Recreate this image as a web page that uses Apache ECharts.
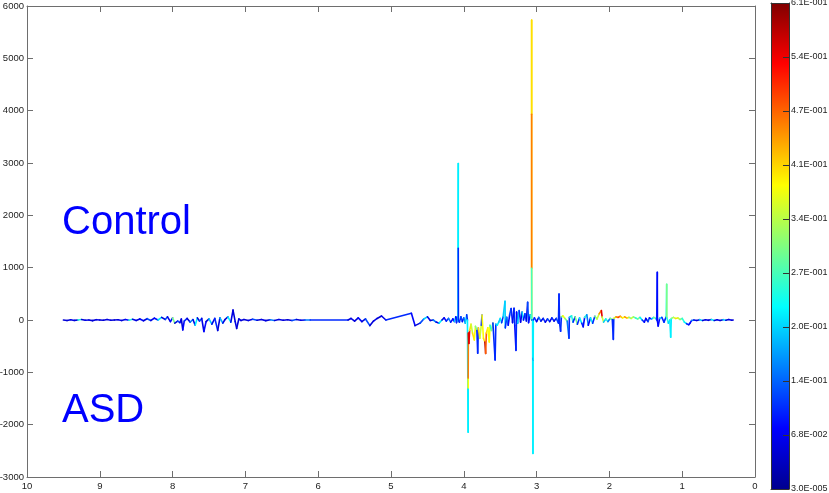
<!DOCTYPE html>
<html>
<head>
<meta charset="utf-8">
<script src="https://cdn.jsdelivr.net/npm/echarts@6/dist/echarts.min.js"></script>
<style>
html,body{margin:0;padding:0;background:#fff;}
#chart{width:829px;height:493px;}
</style>
</head>
<body>
<div id="chart"></div>
<script>
// chemical shift (ppm), intensity, correlation (colour) for each trace point
var ppm = [
 9.50,9.45,9.40,9.35,9.30,9.25,9.20,9.15,9.10,9.05,9.00,8.95,8.90,8.85,8.80,8.75,8.70,8.65,8.60,8.55,8.50,
 8.45,8.40,8.35,8.30,8.25,8.20,8.15,8.10,8.07,8.03,8.00,7.97,7.93,7.90,7.88,7.86,7.84,7.80,7.76,7.72,7.69,7.66,
 7.63,7.60,7.57,7.54,7.50,7.46,7.42,7.38,7.35,7.31,7.28,7.24,7.20,7.17,7.14,7.12,7.09,7.06,
 7.02,6.96,6.90,6.84,6.78,6.72,6.66,6.60,6.54,6.48,6.42,6.36,6.30,6.24,6.18,6.11,
 5.59,5.55,5.50,5.45,5.40,5.35,5.29,5.24,5.19,5.13,5.07,4.72,4.67,4.60,4.55,4.50,4.46,4.42,4.38,4.34,4.30,
 4.27,4.24,4.21,4.18,4.15,4.13,4.11,4.10,4.09,4.08,4.076,4.076,4.074,
 4.06,4.04,4.02,4.00,3.98,3.96,3.95,3.940,3.940,3.940,3.937,3.93,3.92,3.90,3.88,3.856,3.84,3.82,3.809,3.80,3.78,3.76,3.75,
 3.73,3.71,3.70,3.69,3.67,3.65,3.64,3.62,3.60,3.57,3.56,3.54,3.52,3.50,3.48,3.46,3.434,3.43,3.41,3.39,3.37,3.35,3.33,3.31,3.30,
 3.283,3.275,3.26,3.24,3.22,3.20,3.18,3.16,3.14,3.123,3.11,3.09,3.068,3.068,3.068,3.068,3.066,
 3.055,3.050,3.049,3.047,3.045,
 3.03,3.00,2.97,2.94,2.91,2.88,2.85,2.82,2.79,2.76,2.73,2.70,2.692,2.685,2.67,2.66,2.64,2.61,2.58,2.555,2.55,2.52,2.50,
 2.47,2.44,2.41,2.38,2.36,2.34,2.31,2.29,2.26,2.23,2.20,2.17,2.14,2.11,2.10,2.08,2.05,2.02,1.99,1.96,1.946,1.94,1.91,
 1.88,1.85,1.82,1.79,1.76,1.73,1.70,1.67,1.64,1.61,1.58,1.55,1.52,1.50,1.47,1.45,1.42,1.39,1.36,1.35,1.342,1.340,1.33,
 1.31,1.28,1.25,1.22,1.213,1.21,1.19,1.17,1.158,1.15,1.12,1.09,1.06,1.03,1.00,0.97,0.94,0.91,0.893,0.87,0.84,
 0.80,0.76,0.72,0.68,0.64,0.60,0.56,0.52,0.48,0.44,0.40,0.36,0.32,0.30
];
var intensity = [
 0,-10,5,-8,0,10,-5,0,-12,6,0,-6,8,-4,0,5,-10,10,-5,15,-10,
 20,-15,25,-10,35,0,50,10,60,-30,40,-60,-20,-50,20,-190,-20,30,-40,10,-100,40,
 -20,30,-220,-30,20,-80,30,-200,40,-60,10,60,-40,190,-30,-160,20,-10,
 10,-10,15,-5,8,-12,5,-8,10,-5,6,-10,8,-4,0,0,
 0,30,-20,40,-30,20,-107,-20,30,76,0,128,-107,-60,20,60,-10,0,-40,-60,0,
 40,-20,30,-40,20,-30,60,-50,50,-20,2990,1370,0,
 -40,60,-30,40,-60,100,0,-2146,-1300,-1110,-250,-450,-200,-80,-250,-380,-120,-200,-636,-150,-350,-100,95,
 -350,-420,-640,-250,-150,-420,-100,-200,-60,-764,-80,-100,-40,30,-50,60,357,-150,50,-100,100,220,-50,223,-100,
 -580,150,-60,180,-40,150,0,120,-20,340,-50,100,0,5733,3931,988,0,
 0,-2550,-730,-760,0,
 40,-30,50,-20,30,-40,20,-30,40,-20,30,-60,497,-50,-216,60,80,30,-20,-350,50,80,-40,
 60,-80,40,-60,-130,50,100,-100,40,-60,70,20,120,180,60,-40,20,-30,30,10,-370,30,60,
 50,70,40,60,40,50,30,60,40,20,50,0,-40,30,-30,40,20,50,30,0,912,-20,-115,
 30,50,-40,60,682,40,-60,0,-330,30,50,30,40,10,30,-40,-70,-90,-60,-10,0,
 -8,6,-10,5,-6,8,-10,4,-8,6,-5,8,-4,0
];
var corr = [
 0.05,0.05,0.06,0.05,0.25,0.05,0.06,0.05,0.05,0.06,0.05,0.05,0.06,0.05,0.05,0.06,0.05,0.08,0.25,0.06,0.05,
 0.08,0.05,0.12,0.06,0.08,0.22,0.05,0.12,0.06,0.08,0.3,0.05,0.12,0.06,0.05,0.08,0.1,0.05,0.15,0.06,0.22,0.05,
 0.12,0.06,0.08,0.05,0.2,0.06,0.1,0.05,0.18,0.06,0.05,0.22,0.06,0.05,0.06,0.05,0.06,0.05,
 0.05,0.06,0.12,0.05,0.06,0.05,0.15,0.05,0.06,0.05,0.05,0.12,0.05,0.06,0.15,0.1,
 0.05,0.06,0.05,0.08,0.05,0.12,0.05,0.06,0.05,0.06,0.1,0.08,0.05,0.12,0.2,0.06,0.05,0.15,0.06,0.22,0.05,
 0.08,0.1,0.15,0.08,0.08,0.2,0.08,0.1,0.08,0.22,0.22,0.1,0.1,
 0.1,0.12,0.08,0.15,0.2,0.1,0.22,0.22,0.38,0.46,0.55,0.55,0.4,0.35,0.4,0.38,0.3,0.1,0.1,0.4,0.35,0.1,0.38,
 0.4,0.58,0.48,0.4,0.38,0.38,0.25,0.3,0.1,0.1,0.2,0.22,0.2,0.22,0.1,0.2,0.2,0.1,0.15,0.08,0.12,0.1,0.06,0.1,0.08,
 0.1,0.08,0.2,0.1,0.06,0.2,0.08,0.12,0.06,0.12,0.08,0.22,0.40,0.40,0.46,0.27,0.1,
 0.22,0.22,0.1,0.22,0.1,
 0.1,0.06,0.15,0.06,0.1,0.06,0.12,0.06,0.1,0.06,0.12,0.1,0.1,0.1,0.1,0.3,0.38,0.3,0.15,0.1,0.2,0.25,0.1,
 0.3,0.1,0.22,0.1,0.08,0.25,0.15,0.08,0.22,0.1,0.3,0.35,0.45,0.55,0.35,0.2,0.25,0.15,0.3,0.1,0.1,0.35,0.45,
 0.5,0.42,0.38,0.45,0.4,0.3,0.35,0.3,0.25,0.3,0.22,0.1,0.08,0.06,0.12,0.08,0.2,0.3,0.2,0.1,0.08,0.08,0.08,
 0.2,0.1,0.1,0.25,0.3,0.25,0.2,0.22,0.22,0.3,0.35,0.4,0.35,0.3,0.25,0.22,0.1,0.08,0.08,0.15,0.06,
 0.05,0.2,0.05,0.06,0.05,0.22,0.05,0.06,0.05,0.2,0.05,0.06,0.05,0.05
];

var xTicks = ['10','9','8','7','6','5','4','3','2','1','0'];
var cbLabels = ['3.0E-005','6.8E-002','1.4E-001','2.0E-001','2.7E-001','3.4E-001','4.1E-001','4.7E-001','5.4E-001','6.1E-001'];
var corrMin = 0.00003, corrMax = 0.61;
var jet = ['#00008f','#0000ff','#0080ff','#00ffff','#80ff80','#ffff00','#ff8000','#ff0000','#800000'];

var segs = [];
for (var i = 0; i < ppm.length - 1; i++) {
  segs.push([ppm[i], intensity[i], ppm[i+1], intensity[i+1], corr[i]]);
}
var jetStops = jet.map(function(c, k){ return {offset: k / (jet.length - 1), color: c}; });

var FONT = '"Liberation Sans", Arial, sans-serif';
var axisCol = '#6e6e6e';
var cbCol = '#333';
var chart = echarts.init(document.getElementById('chart'), null, {renderer:'canvas'});
chart.setOption({
  animation: false,
  backgroundColor: '#fff',
  grid: [
    {left: 27, right: 74, top: 6, bottom: 16, outerBoundsMode:'none', containLabel:false},
    {left: 771, width: 18, top: 3, height: 486, outerBoundsMode:'none', containLabel:false}
  ],
  xAxis: [
    {gridIndex:0, type:'value', min:0, max:10, interval:1, inverse:true, position:'bottom',
     axisLine:{onZero:false, lineStyle:{color:axisCol, width:1}},
     axisTick:{inside:true, length:6, lineStyle:{color:axisCol}},
     axisLabel:{color:'#222', fontFamily:FONT, fontSize:9.5, margin:4,
       formatter:function(v){ return xTicks[10 - Math.round(v)]; }},
     splitLine:{show:false}},
    {gridIndex:0, type:'value', min:0, max:10, interval:1, inverse:true, position:'top',
     axisLine:{onZero:false, lineStyle:{color:axisCol, width:1}},
     axisTick:{inside:true, length:6, lineStyle:{color:axisCol}},
     axisLabel:{show:false}, splitLine:{show:false}},
    {gridIndex:1, type:'value', min:0, max:1, position:'bottom', z:10,
     axisLine:{onZero:false, lineStyle:{color:cbCol, width:1}},
     axisTick:{show:false}, axisLabel:{show:false}, splitLine:{show:false}},
    {gridIndex:1, type:'value', min:0, max:1, position:'top', z:10,
     axisLine:{onZero:false, lineStyle:{color:cbCol, width:1}},
     axisTick:{show:false}, axisLabel:{show:false}, splitLine:{show:false}}
  ],
  yAxis: [
    {gridIndex:0, type:'value', min:-3000, max:6000, interval:1000, position:'left',
     axisLine:{show:true, onZero:false, lineStyle:{color:axisCol, width:1}},
     axisTick:{show:true, inside:true, length:6, lineStyle:{color:axisCol}},
     axisLabel:{color:'#222', fontFamily:FONT, fontSize:9.5, margin:3,
       formatter:function(v){ return String(v); }},
     splitLine:{show:false}},
    {gridIndex:0, type:'value', min:-3000, max:6000, interval:1000, position:'right',
     axisLine:{show:true, onZero:false, lineStyle:{color:axisCol, width:1}},
     axisTick:{show:true, inside:true, length:6, lineStyle:{color:axisCol}},
     axisLabel:{show:false}, splitLine:{show:false}},
    {gridIndex:1, type:'value', min:0, max:9, interval:1, position:'right', z:10,
     axisLine:{show:true, onZero:false, lineStyle:{color:cbCol, width:1}},
     axisTick:{show:true, inside:true, length:6, lineStyle:{color:cbCol}},
     axisLabel:{color:'#222', fontFamily:FONT, fontSize:9, margin:2,
       formatter:function(v){ return cbLabels[Math.round(v)]; }},
     splitLine:{show:false}},
    {gridIndex:1, type:'value', min:0, max:9, interval:1, position:'left', z:10,
     axisLine:{show:true, onZero:false, lineStyle:{color:cbCol, width:1}},
     axisTick:{show:false}, axisLabel:{show:false}, splitLine:{show:false}}
  ],
  visualMap: {
    type:'continuous', min:corrMin, max:corrMax, dimension:4, seriesIndex:0,
    show:false, inRange:{color:jet}
  },
  series: [{
    type:'custom', xAxisIndex:0, yAxisIndex:0,
    encode:{x:[0,2], y:[1,3]},
    data: segs,
    renderItem: function(params, api){
      var a = api.coord([api.value(0), api.value(1)]);
      var b = api.coord([api.value(2), api.value(3)]);
      return {type:'line', shape:{x1:a[0], y1:a[1], x2:b[0], y2:b[1]},
              style:{stroke: api.visual('color'), lineWidth:1.6, lineCap:'round'}};
    }
  }, {
    type:'custom', xAxisIndex:2, yAxisIndex:2, z:1,
    encode:{x:[0,2], y:[1,3]},
    data: [[0, 0, 1, 9]],
    renderItem: function(params, api){
      var a = api.coord([api.value(0), api.value(1)]);
      var b = api.coord([api.value(2), api.value(3)]);
      return {type:'rect',
        shape:{x:a[0], y:b[1], width:b[0]-a[0], height:a[1]-b[1]},
        style:{fill: new echarts.graphic.LinearGradient(0, 1, 0, 0, jetStops)}};
    }
  }],
  graphic: [
    {type:'text', left:62, top:203, style:{text:'Control', fill:'#0000ff', font:'40px "Liberation Sans"'}},
    {type:'text', left:62, top:391, style:{text:'ASD', fill:'#0000ff', font:'40px "Liberation Sans"'}}
  ]
});
</script>
</body>
</html>
